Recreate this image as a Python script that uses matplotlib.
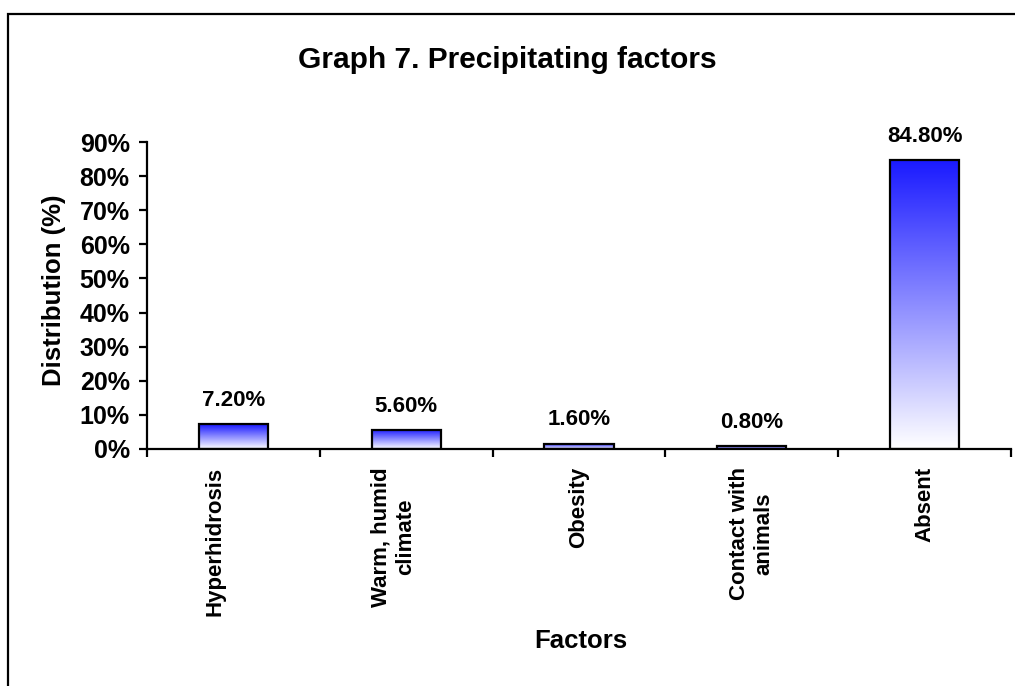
import numpy as np
import matplotlib
matplotlib.use("Agg")
import matplotlib.pyplot as plt
from matplotlib.patches import Rectangle
from matplotlib.colors import LinearSegmentedColormap
from matplotlib.ticker import FixedLocator, PercentFormatter
import matplotlib.transforms as mtransforms

# Data
factors = ["Hyperhidrosis", "Warm, humid\nclimate", "Obesity", "Contact with\nanimals", "Absent"]
distribution = [7.20, 5.60, 1.60, 0.80, 84.80]   # percent
value_labels = ["7.20%", "5.60%", "1.60%", "0.80%", "84.80%"]
y_ticks = [0, 10, 20, 30, 40, 50, 60, 70, 80, 90]

plt.rcParams["font.family"] = ["Liberation Sans", "DejaVu Sans"]
plt.rcParams["font.weight"] = "bold"

W, H = 1015, 686
fig = plt.figure(figsize=(W / 100, H / 100), dpi=100)
fig.patch.set_facecolor("white")

# outer frame of the chart area
frame = Rectangle((8 / W, -0.2), 1.2, 1.2 - 14 / H, transform=fig.transFigure,
                  fill=False, edgecolor="black", linewidth=1.6, zorder=0)
fig.add_artist(frame)

ax = fig.add_axes([147 / W, 1 - 449 / H, (1011 - 147) / W, (449 - 142) / H])
ax.set_facecolor("none")

x = np.arange(len(factors))
bar_w = 0.4
bars = ax.bar(x, distribution, width=bar_w, facecolor="none",
              edgecolor="black", linewidth=1.6, zorder=3)

# vertical blue-to-white gradient inside each bar
cmap = LinearSegmentedColormap.from_list("bw", [(1.0, 1.0, 1.0), (0.1, 0.1, 1.0)])
grad = np.linspace(0, 1, 256).reshape(-1, 1)
for rect in bars:
    x0, w, h = rect.get_x(), rect.get_width(), rect.get_height()
    im = ax.imshow(grad, cmap=cmap, origin="lower", aspect="auto",
                   extent=(x0, x0 + w, 0, h), zorder=2, interpolation="bilinear")
    clip = Rectangle((x0, 0), w, h, transform=ax.transData)
    im.set_clip_path(clip)

# value labels above bars
for xi, val, lab in zip(x, distribution, value_labels):
    ax.annotate(lab, (xi, val), xytext=(0, 13), textcoords="offset points",
                ha="center", va="baseline", fontsize=16, fontweight="bold")

ax.set_xlim(-0.5, len(factors) - 0.5)
ax.set_ylim(0, 90)

for s in ("top", "right"):
    ax.spines[s].set_visible(False)
for s in ("left", "bottom"):
    ax.spines[s].set_linewidth(1.6)

ax.yaxis.set_major_locator(FixedLocator(y_ticks))
ax.yaxis.set_major_formatter(PercentFormatter(decimals=0))
ax.tick_params(axis="y", direction="out", length=6, width=1.6, pad=6.5,
               labelsize=18)
for t in ax.get_yticklabels():
    t.set_fontweight("bold")

# category labels at bar centres, tick marks at category boundaries
ax.set_xticks(x)
ax.set_xticklabels(factors, rotation=90, fontsize=16, fontweight="bold",
                   ha="center", va="top", multialignment="center")
ax.tick_params(axis="x", which="major", length=0, pad=13)
ax.set_xticks(np.arange(len(factors) + 1) - 0.5, minor=True)
ax.tick_params(axis="x", which="minor", direction="out", length=6, width=1.6)

shifts = [-18, -13, 0, 0, 0]
for lab, dx in zip(ax.get_xticklabels(), shifts):
    if dx:
        lab.set_transform(lab.get_transform() +
                          mtransforms.ScaledTranslation(dx / 100, 0, fig.dpi_scale_trans))

fig.text(507.5 / W, 1 - 68 / H, "Graph 7. Precipitating factors", ha="center",
         va="baseline", fontsize=21.5, fontweight="bold")
fig.text(54 / W, 1 - 290 / H, "Distribution (%)", rotation=90, ha="center",
         va="center", fontsize=18.5, fontweight="bold")
fig.text(581 / W, 1 - 648 / H, "Factors", ha="center", va="baseline",
         fontsize=18.5, fontweight="bold")

fig.savefig("out.png", dpi=100)
